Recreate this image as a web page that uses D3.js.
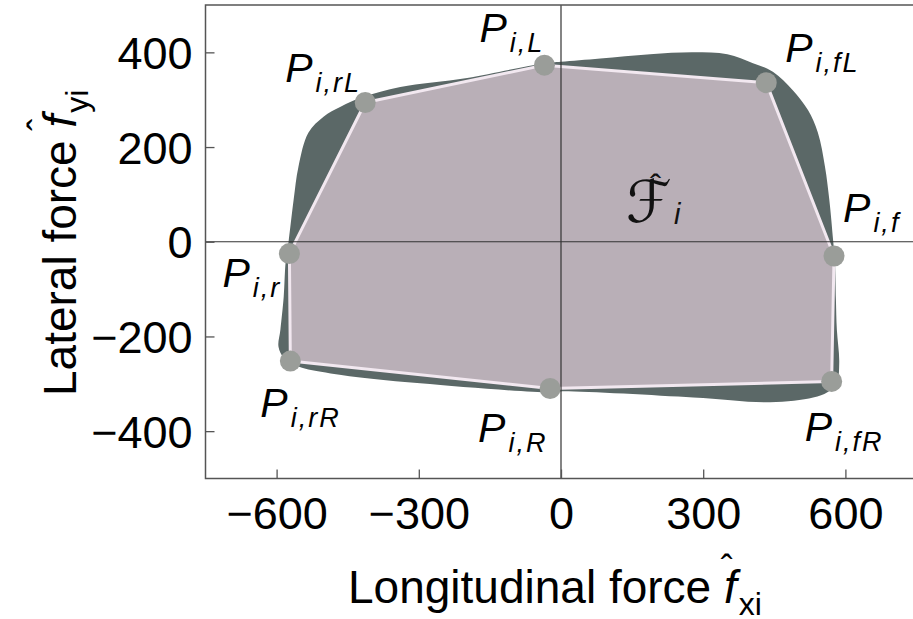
<!DOCTYPE html>
<html>
<head>
<meta charset="utf-8">
<script src="https://cdn.jsdelivr.net/npm/d3@7"></script>
<style>
  body { margin: 0; background: #fff; }
  svg { display: block; font-family: "Liberation Sans", Arial, sans-serif; }
</style>
</head>
<body>
<svg id="chart" width="913" height="619"></svg>
<script>
// corner points of the inner polygon (force units)
const vertexNames = ["r", "rL", "L", "fL", "f", "fR", "R", "rR"];
const vertexFx = [-573, -413, -35, 433, 576, 571, -23, -571];
const vertexFy = [-25, 294, 373, 336, -30, -295, -310, -252];

const boundaryFx = [-575, -564, -554, -533, -501, -465, -417, -339, -198, -35, 0, 83, 188, 279, 351, 405, 447, 489, 521, 542, 557, 566, 574,
  578, 580, 582, 587, 582, 562, 532, 441, 279, 0, -22, -297, -486, -555, -585, -596, -592, -585, -581];
const boundaryFy = [-2, 89, 158, 230, 264, 285, 306, 327, 346, 377, 380, 387, 396, 400, 396, 377, 359, 320, 278, 230, 158, 89, 4,
  -44, -122, -186, -255, -297, -318, -329, -339, -329, -316, -318, -299, -278, -263, -245, -222, -186, -116, -44];

const xTicks = [-600, -300, 0, 300, 600];
const yTicks = [-400, -200, 0, 200, 400];

const margin = { top: 5, left: 205.5, bottom: 478.5, right: 916.5 };

const svg = d3.select("#chart");

const x = d3.scaleLinear().domain([-750, 750]).range([margin.left, margin.right]);
const y = d3.scaleLinear().domain([-500, 500]).range([margin.bottom, margin.top]);

const fmt = d => d < 0 ? "\u2212" + Math.abs(d) : String(d);

// outer shape
const outer = boundaryFx.map((v, i) => [v, boundaryFy[i]]);
svg.append("path")
  .datum(outer)
  .attr("d", d3.line().x(d => x(d[0])).y(d => y(d[1])).curve(d3.curveCatmullRomClosed.alpha(0.5)))
  .attr("fill", "#5b6867");

// inner polygon
const verts = vertexFx.map((v, i) => ({ name: vertexNames[i], fx: v, fy: vertexFy[i] }));
svg.append("path")
  .datum(verts)
  .attr("d", d3.line().x(d => x(d.fx)).y(d => y(d.fy)).curve(d3.curveLinearClosed))
  .attr("fill", "#b9afb7")
  .attr("stroke", "#f2e8f0")
  .attr("stroke-width", 3)
  .attr("stroke-linejoin", "round");

// zero lines
svg.append("line")
  .attr("x1", x(0)).attr("x2", x(0))
  .attr("y1", margin.top).attr("y2", margin.bottom)
  .attr("stroke", "#333").attr("stroke-width", 1.2);
svg.append("line")
  .attr("x1", margin.left).attr("x2", margin.right)
  .attr("y1", y(0)).attr("y2", y(0))
  .attr("stroke", "#333").attr("stroke-width", 1.2);

// vertex dots
svg.selectAll("circle.vertex")
  .data(verts)
  .join("circle")
  .attr("class", "vertex")
  .attr("cx", d => x(d.fx))
  .attr("cy", d => y(d.fy))
  .attr("r", 10.5)
  .attr("fill", "#9a9d99");

// frame
svg.append("rect")
  .attr("x", margin.left).attr("y", margin.top)
  .attr("width", margin.right - margin.left)
  .attr("height", margin.bottom - margin.top)
  .attr("fill", "none")
  .attr("stroke", "#555")
  .attr("stroke-width", 1.5);

// axes
const xAxis = svg.append("g")
  .attr("transform", `translate(0, ${margin.bottom})`)
  .call(d3.axisBottom(x).tickValues(xTicks).tickSize(-9).tickPadding(19).tickFormat(fmt));
const yAxis = svg.append("g")
  .attr("transform", `translate(${margin.left}, 0)`)
  .call(d3.axisLeft(y).tickValues(yTicks).tickSize(-9).tickPadding(13).tickFormat(fmt));

[xAxis, yAxis].forEach(g => {
  g.select(".domain").remove();
  g.selectAll(".tick line").attr("stroke", "#555").attr("stroke-width", 1.3);
  g.selectAll("text")
    .attr("fill", "#000")
    .style("font-size", "45px")
    .style("font-family", "'Liberation Sans', Arial, sans-serif");
});
yAxis.selectAll("text").attr("dy", "0.36em");

// vertex labels: offsets in pixels from the dot
const labelOffsets = {
  r: [-67, 33], rL: [-80, -21], L: [-65, -23], fL: [19, -21],
  f: [9, -34], fR: [-27, 60], R: [-72, 53], rR: [-30, 56]
};
const labels = svg.selectAll("text.plabel")
  .data(verts)
  .join("text")
  .attr("class", "plabel")
  .attr("x", d => x(d.fx) + labelOffsets[d.name][0])
  .attr("y", d => y(d.fy) + labelOffsets[d.name][1])
  .style("font-style", "italic")
  .attr("fill", "#000");
labels.append("tspan")
  .style("font-size", "41px")
  .text("P");
labels.append("tspan")
  .attr("dy", 10)
  .attr("dx", 3)
  .style("font-size", "27px")
  .style("letter-spacing", "2px")
  .text(d => "i," + d.name);

// region label F-hat_i
const fLabel = svg.append("g").attr("transform", "translate(626, 222)");
fLabel.append("text")
  .style("font-family", "'DejaVu Sans', sans-serif")
  .style("font-style", "italic")
  .style("font-size", "58px")
  .attr("fill", "#111")
  .text("\u2131");
fLabel.append("text")
  .attr("x", 24).attr("y", -24)
  .style("font-size", "34px")
  .attr("fill", "#111")
  .text("\u02c6");
fLabel.append("text")
  .attr("x", 48).attr("y", 2)
  .style("font-size", "29px")
  .style("font-style", "italic")
  .attr("fill", "#111")
  .text("i");

// axis titles
const xTitle = svg.append("text")
  .attr("x", 348).attr("y", 603)
  .style("font-size", "46px")
  .attr("fill", "#000");
xTitle.append("tspan").text("Longitudinal force ");
xTitle.append("tspan").style("font-style", "italic").text("f");
xTitle.append("tspan").attr("dx", -16).attr("dy", -22).style("font-size", "36px").text("\u02c6");
xTitle.append("tspan").attr("dx", 6).attr("dy", 34).style("font-size", "32px").text("xi");

const yTitle = svg.append("text")
  .attr("transform", "translate(76, 396) rotate(-90)")
  .style("font-size", "46px")
  .attr("fill", "#000");
yTitle.append("tspan").text("Lateral force ");
yTitle.append("tspan").style("font-style", "italic").text("f");
yTitle.append("tspan").attr("dx", -16).attr("dy", -22).style("font-size", "36px").text("\u02c6");
yTitle.append("tspan").attr("dx", 6).attr("dy", 34).style("font-size", "32px").text("yi");
</script>
</body>
</html>
